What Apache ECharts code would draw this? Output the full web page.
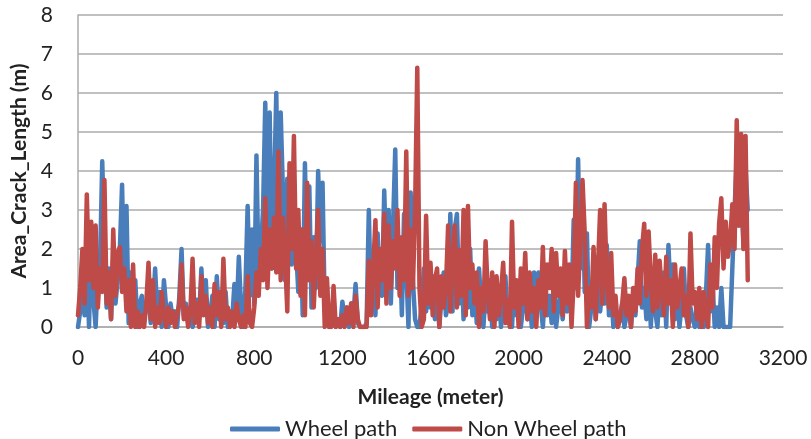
<!DOCTYPE html>
<html>
<head>
<meta charset="utf-8">
<script src="https://cdn.jsdelivr.net/npm/echarts@6/dist/echarts.min.js"></script>
<style>
  html, body { margin: 0; padding: 0; background: #fff; }
  #chart { width: 811px; height: 439px; }
</style>
</head>
<body>
<div id="chart"></div>
<script>
// station spacing along the road (m)
const STEP = 10

// x ticks
const xTicks = [0, 400, 800, 1200, 1600, 2000, 2400, 2800, 3200]

// Wheel path, one value per 10 m from 0 m
const wheelPath = [
  0.0, 0.4, 1.0, 0.3, 1.8, 0.0, 2.4, 0.7, 0.0, 1.3,
  1.6, 4.25, 2.2, 0.5, 1.5, 0.2, 1.8, 0.6, 1.2, 2.0,
  3.65, 1.0, 3.1, 0.1, 1.4, 0.3, 1.2, 0.0, 0.6, 0.8,
  0.2, 0.5, 1.0, 0.1, 0.4, 1.5, 0.3, 0.9, 0.0, 1.2,
  0.5, 0.0, 0.6, 0.2, 0.4, 0.0, 0.8, 2.0, 0.3, 0.6,
  0.1, 0.5, 0.0, 0.3, 0.7, 0.2, 1.5, 0.4, 1.2, 0.0,
  0.3, 0.8, 0.0, 1.3, 0.2, 0.6, 0.1, 0.9, 0.0, 0.4,
  0.2, 1.1, 0.3, 1.8, 0.5, 0.0, 1.0, 3.1, 0.8, 2.5,
  0.6, 4.4, 1.2, 2.0, 3.0, 5.75, 2.2, 5.5, 1.5, 3.5,
  6.0, 2.0, 5.5, 3.5, 1.2, 3.8, 2.5, 1.6, 3.0, 2.0,
  0.9, 2.5, 0.3, 4.2, 1.5, 3.6, 0.5, 2.3, 1.0, 4.0,
  2.2, 3.7, 0.4, 1.0, 0.0, 0.3, 0.1, 0.0, 0.2, 0.0,
  0.65, 0.2, 0.5, 0.0, 0.6, 0.3, 1.1, 0.1, 0.0, 0.0,
  0.0, 0.1, 3.0, 0.5, 1.8, 0.3, 2.4, 1.0, 0.8, 3.5,
  1.5, 3.0, 0.6, 2.6, 4.55, 1.0, 2.2, 0.3, 2.9, 1.5,
  0.0, 3.45, 1.2, 0.2, 0.0, 0.0, 0.6, 1.5, 0.4, 1.0,
  0.5, 1.3, 0.2, 1.0, 0.0, 0.8, 1.4, 0.3, 0.6, 2.9,
  0.4, 2.5, 2.9, 0.6, 1.8, 0.2, 1.3, 0.5, 2.0, 0.3,
  1.0, 0.1, 1.5, 0.6, 0.0, 0.9, 0.4, 1.2, 0.0, 0.7,
  0.2, 1.0, 0.0, 0.6, 1.3, 0.1, 0.5, 0.0, 1.2, 0.3,
  0.8, 0.0, 0.5, 1.1, 0.2, 0.7, 0.0, 1.4, 0.3, 1.4,
  0.6, 0.0, 1.0, 0.3, 0.8, 0.1, 1.1, 0.0, 0.5, 0.9,
  0.2, 1.0, 0.4, 1.3, 0.5, 2.75, 1.0, 4.3, 1.5, 3.6,
  0.9, 2.4, 0.0, 0.5, 1.3, 0.2, 1.8, 0.4, 1.0, 0.6,
  2.1, 0.3, 1.0, 0.0, 0.4, 0.0, 0.2, 0.6, 0.0, 0.3,
  0.5, 0.0, 0.8, 0.3, 1.2, 2.2, 0.5, 1.0, 0.2, 1.5,
  0.0, 1.2, 0.4, 0.0, 1.0, 0.3, 1.4, 0.0, 2.1, 0.8,
  1.6, 0.2, 1.0, 0.0, 0.6, 1.5, 0.3, 0.0, 0.5, 0.2,
  0.0, 0.6, 0.0, 0.3, 0.0, 0.8, 2.1, 0.4, 1.2, 0.0,
  0.5, 0.0, 1.0, 0.0, 0.0, 0.0, 0.0, 1.5, 3.0, 4.3,
  2.6, 3.5, 2.2, 4.05, 3.0
]

// Non Wheel path, one value per 10 m from 0 m
const nonWheelPath = [
  0.3, 1.0, 2.0, 0.6, 3.4, 1.2, 2.7, 1.0, 2.6, 0.5,
  1.5, 0.9, 3.77, 0.6, 1.4, 0.2, 2.5, 0.8, 1.9, 2.05,
  0.9, 1.5, 0.4, 1.2, 0.0, 1.6, 0.0, 0.4, 0.0, 0.3,
  0.0, 0.6, 1.65, 0.2, 1.2, 0.0, 0.5, 0.1, 0.9, 0.3,
  0.0, 0.5, 0.1, 0.4, 0.0, 0.3, 0.6, 1.6, 0.2, 0.5,
  0.0, 0.4, 1.75, 0.1, 0.6, 0.0, 1.3, 0.3, 0.8, 0.1,
  0.5, 0.0, 1.1, 0.3, 0.9, 0.0, 1.75, 0.2, 0.5, 0.0,
  0.4, 0.0, 0.6, 0.2, 0.0, 0.3, 0.0, 1.3, 0.1, 0.0,
  0.5, 1.4, 0.8, 2.0, 1.2, 3.3, 1.0, 2.5, 1.5, 2.8,
  1.4, 4.5, 1.2, 2.8, 1.8, 0.4, 4.2, 2.0, 4.9, 1.5,
  3.0, 0.8, 2.5, 0.3, 3.7, 1.2, 2.2, 0.5, 1.8, 3.0,
  0.8, 2.0, 0.0, 1.25, 0.0, 0.0, 1.05, 0.0, 0.2, 0.0,
  0.3, 0.0, 0.5, 0.1, 0.6, 0.0, 0.8, 0.2, 0.0, 0.0,
  0.0, 0.0, 1.7, 0.3, 1.5, 2.74, 0.5, 2.0, 1.2, 2.9,
  0.6, 2.6, 1.0, 2.2, 1.5, 3.0, 0.8, 2.3, 1.2, 4.5,
  0.8, 2.5, 1.0, 3.0, 6.65, 1.0, 0.0, 0.2, 2.85, 0.6,
  1.65, 0.3, 1.2, 1.5, 0.0, 1.3, 0.5, 1.0, 2.6, 0.4,
  1.6, 2.6, 0.5, 1.97, 0.8, 3.0, 0.3, 3.1, 1.0, 1.6,
  0.6, 1.4, 0.0, 1.0, 0.4, 2.2, 0.9, 0.2, 1.4, 0.0,
  1.3, 0.3, 0.9, 1.65, 0.1, 0.7, 0.0, 2.7, 0.5, 1.2,
  0.0, 1.5, 0.6, 1.9, 0.2, 1.4, 0.4, 1.0, 0.0, 1.2,
  0.5, 2.05, 0.3, 1.6, 1.0, 2.0, 0.4, 1.9, 0.8, 1.5,
  0.3, 1.95, 0.6, 1.6, 0.0, 1.2, 3.7, 0.8, 2.3, 3.77,
  2.4, 0.0, 1.0, 0.5, 2.05, 0.2, 1.5, 3.0, 0.6, 3.15,
  1.2, 0.5, 1.9, 0.3, 0.8, 0.0, 0.2, 0.6, 1.25, 0.3,
  0.8, 0.0, 1.0, 0.4, 1.5, 0.6, 2.0, 2.65, 0.8, 2.45,
  1.2, 0.4, 1.85, 0.5, 1.7, 0.9, 0.3, 1.8, 0.6, 1.2,
  0.0, 1.6, 0.5, 1.0, 1.5, 0.3, 0.8, 0.0, 2.4, 0.6,
  0.9, 0.2, 1.0, 0.0, 0.9, 0.3, 0.0, 1.6, 0.5, 2.3,
  1.0, 2.65, 3.3, 1.5, 2.7, 1.8, 2.2, 3.15, 2.0, 5.3,
  2.6, 4.95, 2.0, 4.9, 1.2
]

const toPairs = arr => arr.map((v, i) => [i * STEP, v])

const chart = echarts.init(document.getElementById('chart'), null, { renderer: 'canvas' })

const font = 'Lato, "Open Sans", sans-serif'
const gridColor = '#ABABAB'

const option = {
  animation: false,
  textStyle: { fontFamily: font },
  grid: { left: 78, right: 28, top: 15, bottom: 112 },
  legend: {
    top: 413,
    left: 225,
    itemWidth: 50,
    itemHeight: 5,
    itemGap: 15,
    icon: 'roundRect',
    textStyle: { fontSize: 22, color: '#222', fontFamily: font },
    data: ['Wheel path', 'Non Wheel path']
  },
  xAxis: {
    type: 'value',
    min: xTicks[0],
    max: xTicks[xTicks.length - 1],
    interval: 400,
    name: 'Mileage (meter)',
    nameLocation: 'middle',
    nameGap: 60,
    nameTextStyle: { fontSize: 21, fontWeight: 'bold', color: '#222', fontFamily: font },
    axisLine: { show: true, lineStyle: { color: gridColor, width: 1.5 } },
    axisTick: { show: false },
    axisLabel: { fontSize: 21, color: '#222', margin: 21, formatter: v => String(v) },
    splitLine: { show: false }
  },
  yAxis: {
    type: 'value',
    min: 0,
    max: 8,
    interval: 1,
    name: 'Area_Crack_Length (m)',
    nameLocation: 'middle',
    nameGap: 38,
    nameTextStyle: { fontSize: 21, fontWeight: 'bold', color: '#222', fontFamily: font },
    axisLine: { show: true, lineStyle: { color: gridColor, width: 1.5 } },
    axisTick: { show: false },
    axisLabel: { fontSize: 21, color: '#222', margin: 25 },
    splitLine: { show: true, lineStyle: { color: gridColor, width: 1.5 } }
  },
  series: [
    {
      name: 'Wheel path',
      type: 'line',
      data: toPairs(wheelPath),
      showSymbol: false,
      color: '#4A7EBB',
      lineStyle: { width: 4.5, color: '#4A7EBB', join: 'round', cap: 'round' }
    },
    {
      name: 'Non Wheel path',
      type: 'line',
      data: toPairs(nonWheelPath),
      showSymbol: false,
      color: '#BE4B48',
      lineStyle: { width: 4.5, color: '#BE4B48', join: 'round', cap: 'round' }
    }
  ]
}

chart.setOption(option)
</script>
</body>
</html>
